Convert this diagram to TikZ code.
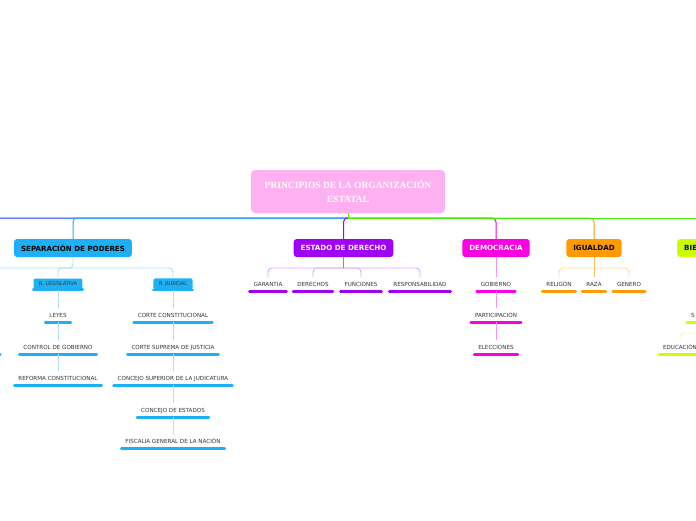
\documentclass[tikz,border=0pt]{standalone}
\usepackage{fontspec}
\setmainfont{DejaVu Sans}
\newfontfamily\rootfont{Liberation Serif}

\definecolor{rootpink}{HTML}{FFB0F0}
\definecolor{sepblue}{HTML}{1EB0F5}
\definecolor{seplight}{HTML}{A9DDF9}
\definecolor{deepblue}{HTML}{0A3CFF}
\definecolor{estpurple}{HTML}{A000F5}
\definecolor{estmid}{HTML}{C060F5}
\definecolor{estlight}{HTML}{DDA8FA}
\definecolor{demomag}{HTML}{FA00E0}
\definecolor{demolight}{HTML}{FF90F2}
\definecolor{iguorange}{HTML}{FF9A00}
\definecolor{igumid}{HTML}{FFBE60}
\definecolor{igulight}{HTML}{FFDCA8}
\definecolor{bienlime}{HTML}{CCFF00}
\definecolor{bienlight}{HTML}{EEFFA8}
\definecolor{rootgreen}{HTML}{44EE00}
\definecolor{leaftext}{HTML}{333333}

\tikzset{
  bar/.style={append after command={(\tikzlastnode.south west) edge[draw=#1,line width=2.6pt,line cap=round] (\tikzlastnode.south east)}},
  rootbox/.style={shape=rectangle,rounded corners=4pt,fill=rootpink,text=white,align=center,
    minimum width=194pt,minimum height=43pt,font=\rootfont\bfseries\fontsize{9.5}{14}\selectfont},
  topic/.style={shape=rectangle,rounded corners=3pt,fill=#1,minimum height=18pt,inner xsep=7pt,
    font=\fontsize{7.1}{8}\selectfont\bfseries},
  subtopic/.style={shape=rectangle,rounded corners=1.5pt,fill=#1,minimum height=11pt,inner xsep=5.5pt,
    text=leaftext,font=\fontsize{5}{6}\selectfont,bar=#1},
  leaf/.style={text=leaftext,font=\fontsize{5.6}{6}\selectfont,text height=4pt,text depth=0pt,
    inner xsep=4pt,inner ysep=5pt,bar=#1},
  mainline/.style={draw=#1,line width=1pt,rounded corners=4pt},
  subline/.style={draw=#1,line width=0.9pt,rounded corners=4pt}
}

\begin{document}
\begin{tikzpicture}[x=1pt,y=-1pt]
\useasboundingbox (0,0) rectangle (696,520);
\clip (0,0) rectangle (696,520);

\node(root) at (348,191.5)[rootbox] {PRINCIPIOS DE LA ORGANIZACIÓN\\ESTATAL};

\node(sep) at (73,248)[topic=sepblue]               {SEPARACIÓN DE PODERES};
\node(estado) at (343.5,248)[topic=estpurple,text=white] {ESTADO DE DERECHO};
\node(demo) at (496,248)[topic=demomag,text=white]   {DEMOCRACIA};
\node(igual) at (594,248)[topic=iguorange]           {IGUALDAD};
\node(bien) at (677,248)[topic=bienlime,anchor=west,text width=40pt,align=left] {BIE};

\coordinate(hub) at (348,218);
\coordinate(farleft) at (-60,260);
\coordinate(farright) at (760,218);

% separacion de poderes
\node(legis) at (58,284)[subtopic=sepblue]  {R. LEGISLATIVA};
\node(judi) at (173,284)[subtopic=sepblue]  {R. JUDICIAL};
\node(leyes) at (58,315)[leaf=sepblue]      {LEYES};
\node(control) at (58,347)[leaf=sepblue]    {CONTROL DE GOBIERNO};
\node(reforma) at (58,378)[leaf=sepblue]    {REFORMA CONSTITUCIONAL};
\node(corte) at (173,315)[leaf=sepblue]     {CORTE CONSTITUCIONAL};
\node(suprema) at (173,347)[leaf=sepblue]   {CORTE SUPREMA DE JUSTICIA};
\node(superior) at (173,378)[leaf=sepblue]  {CONCEJO SUPERIOR DE LA JUDICATURA};
\node(estados) at (173,410)[leaf=sepblue]   {CONCEJO DE ESTADOS};
\node(fiscalia) at (173,441)[leaf=sepblue]  {FISCALIA GENERAL DE LA NACIÓN};
\node(ghost) at (-19,347)[leaf=sepblue,minimum width=38pt] {};
\coordinate(sephub) at (73,268);
\coordinate(offleft) at (-40,290);

% estado de derecho
\node(garantia) at (268,284)[leaf=estpurple]  {GARANTIA};
\node(derechos) at (313,284)[leaf=estpurple]  {DERECHOS};
\node(funciones) at (361,284)[leaf=estpurple] {FUNCIONES};
\node(respons) at (420,284)[leaf=estpurple]   {RESPONSABILIDAD};
\coordinate(esthub) at (343.5,268);

% democracia
\node(gobierno) at (496,284)[leaf=demomag]  {GOBIERNO};
\node(particip) at (496,315)[leaf=demomag]  {PARTICIPACIÓN};
\node(elecc) at (496,347)[leaf=demomag]     {ELECCIONES};

% igualdad
\node(religion) at (559,284)[leaf=iguorange] {RELIGÓN};
\node(raza) at (594,284)[leaf=iguorange]     {RAZA};
\node(genero) at (629,284)[leaf=iguorange]   {GENERO};
\coordinate(iguhub) at (594,268);

% bienestar
\node(salud) at (687,315)[leaf=bienlime,anchor=west,text width=24pt,align=left] {S};
\node(educ) at (680,347)[leaf=bienlime] {EDUCACIÓN};
\coordinate(bienhub) at (740,333);

% ramas principales
\draw[mainline=deepblue] (hub) -| (farleft);
\draw[mainline=sepblue] (hub) -| (sep.north);
\draw[mainline=estpurple] (hub) -| (estado.north);
\draw[mainline=demomag] (hub) -| (demo.north);
\draw[mainline=iguorange] (hub) -| (igual.north);
\draw[mainline=rootgreen,rounded corners=0pt] (root.south) -- (hub) -- (farright);

% subramas
\draw[subline=seplight] (sep.south) -- (sephub) -| (legis.north);
\draw[subline=seplight] (sephub) -| (judi.north);
\draw[subline=seplight] (sephub) -| (offleft);
\path [subline=seplight]
  (legis.south)    edge (leyes.north)
  (leyes.south)    edge (control.north)
  (control.south)  edge (reforma.north)
  (judi.south)     edge (corte.north)
  (corte.south)    edge (suprema.north)
  (suprema.south)  edge (superior.north)
  (superior.south) edge (estados.north)
  (estados.south)  edge (fiscalia.north);

\draw[subline=estlight] (esthub) -| (garantia.north);
\draw[subline=estlight] (esthub) -| (derechos.north);
\draw[subline=estlight] (esthub) -| (funciones.north);
\draw[subline=estlight] (esthub) -| (respons.north);
\draw[subline=estmid] (estado.south) -- (esthub);

\path [subline=demolight]
  (demo.south)     edge (gobierno.north)
  (gobierno.south) edge (particip.north)
  (particip.south) edge (elecc.north);

\draw[subline=igulight] (iguhub) -| (religion.north);
\draw[subline=igulight] (iguhub) -| (genero.north);
\draw[subline=igumid] (igual.south) -- (raza.north);

\draw[subline=bienlight] (bienhub) -| (educ.north);
\end{tikzpicture}
\end{document}
